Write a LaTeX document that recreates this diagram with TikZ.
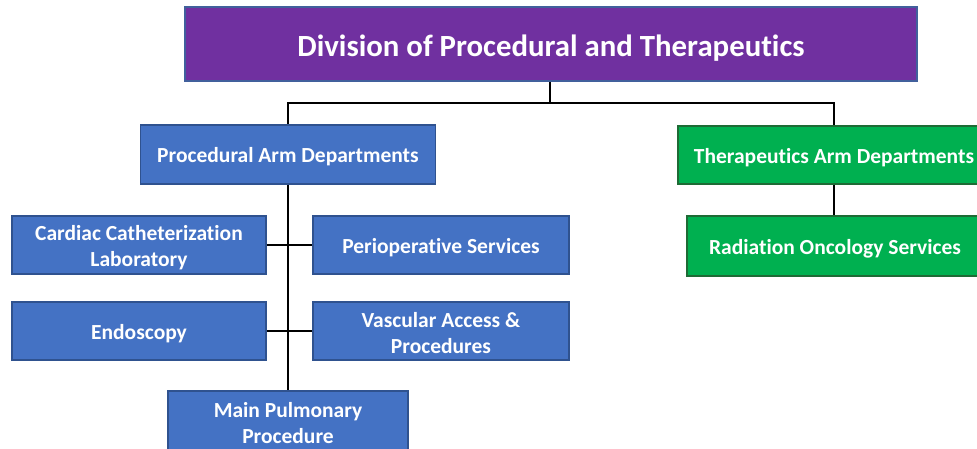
\documentclass[tikz,border=0pt]{standalone}
\usepackage{fontspec}
\setmainfont[Ligatures=NoCommon]{Carlito}
\definecolor{purp}{HTML}{7030A0}
\definecolor{purpb}{HTML}{41609C}
\definecolor{blu}{HTML}{4472C4}
\definecolor{blub}{HTML}{2F528F}
\definecolor{grn}{HTML}{00B050}
\definecolor{grnb}{HTML}{1E6B35}
\tikzset{
  box/.style={draw=blub, fill=blu, line width=1.5pt, inner sep=0pt},
  gbox/.style={box, draw=grnb, fill=grn},
  tbox/.style={box, draw=purpb, fill=purp},
  txt/.style={text=white, align=center, inner sep=0pt, yshift=-2.5pt,
    font=\fontsize{21.5}{26}\selectfont\bfseries},
  ttxt/.style={txt, yshift=-2pt, font=\fontsize{30.8}{34}\selectfont\bfseries},
  conn/.style={draw=black, line width=2pt}
}
\begin{document}
\begin{tikzpicture}[x=1pt,y=-1pt]
\useasboundingbox (0,0) rectangle (977,448);
\clip (0,0) rectangle (977,448);
\fill[white] (0,0) rectangle (977,448);
\node[tbox, minimum width=732pt, minimum height=74pt, label={[ttxt]center:Division of Procedural and Therapeutics}] (title) at (551,44) {};
\node[box, minimum width=295pt, minimum height=59pt, label={[txt]center:Procedural Arm Departments}] (proc) at (288,154.5) {};
\node[gbox, minimum width=312pt, minimum height=58pt, label={[txt]center:Therapeutics Arm Departments}] (ther) at (834,155) {};
\node[gbox, minimum width=296pt, minimum height=60pt, label={[txt]center:Radiation Oncology Services}] (rad) at (835,246) {};
\node[box, minimum width=254pt, minimum height=58pt, label={[txt]center:{Cardiac Catheterization\\Laboratory}}] (card) at (139,245) {};
\node[box, minimum width=256pt, minimum height=58pt, label={[txt]center:Perioperative Services}] (peri) at (441,245) {};
\node[box, minimum width=254pt, minimum height=58pt, label={[txt]center:Endoscopy}] (endo) at (139,331) {};
\node[box, minimum width=256pt, minimum height=58pt, label={[txt]center:{Vascular Access \&\\Procedures}}] (vasc) at (441,331) {};
\node[box, minimum width=240pt, minimum height=60pt, label={[txt]center:{Main Pulmonary\\Procedure}}] (main) at (288,421) {};
\coordinate (hub) at (550,103);
\draw[conn] (title.south -| hub) -- (hub);
\draw[conn] (hub) -| (proc.north);
\draw[conn] (hub) -| (ther.north);
\draw[conn] (proc.south) -- (main.north);
\draw[conn] (card.east) -- (peri.west);
\draw[conn] (endo.east) -- (vasc.west);
\draw[conn] (ther.south) -- (ther.south |- rad.north);
\end{tikzpicture}
\end{document}
